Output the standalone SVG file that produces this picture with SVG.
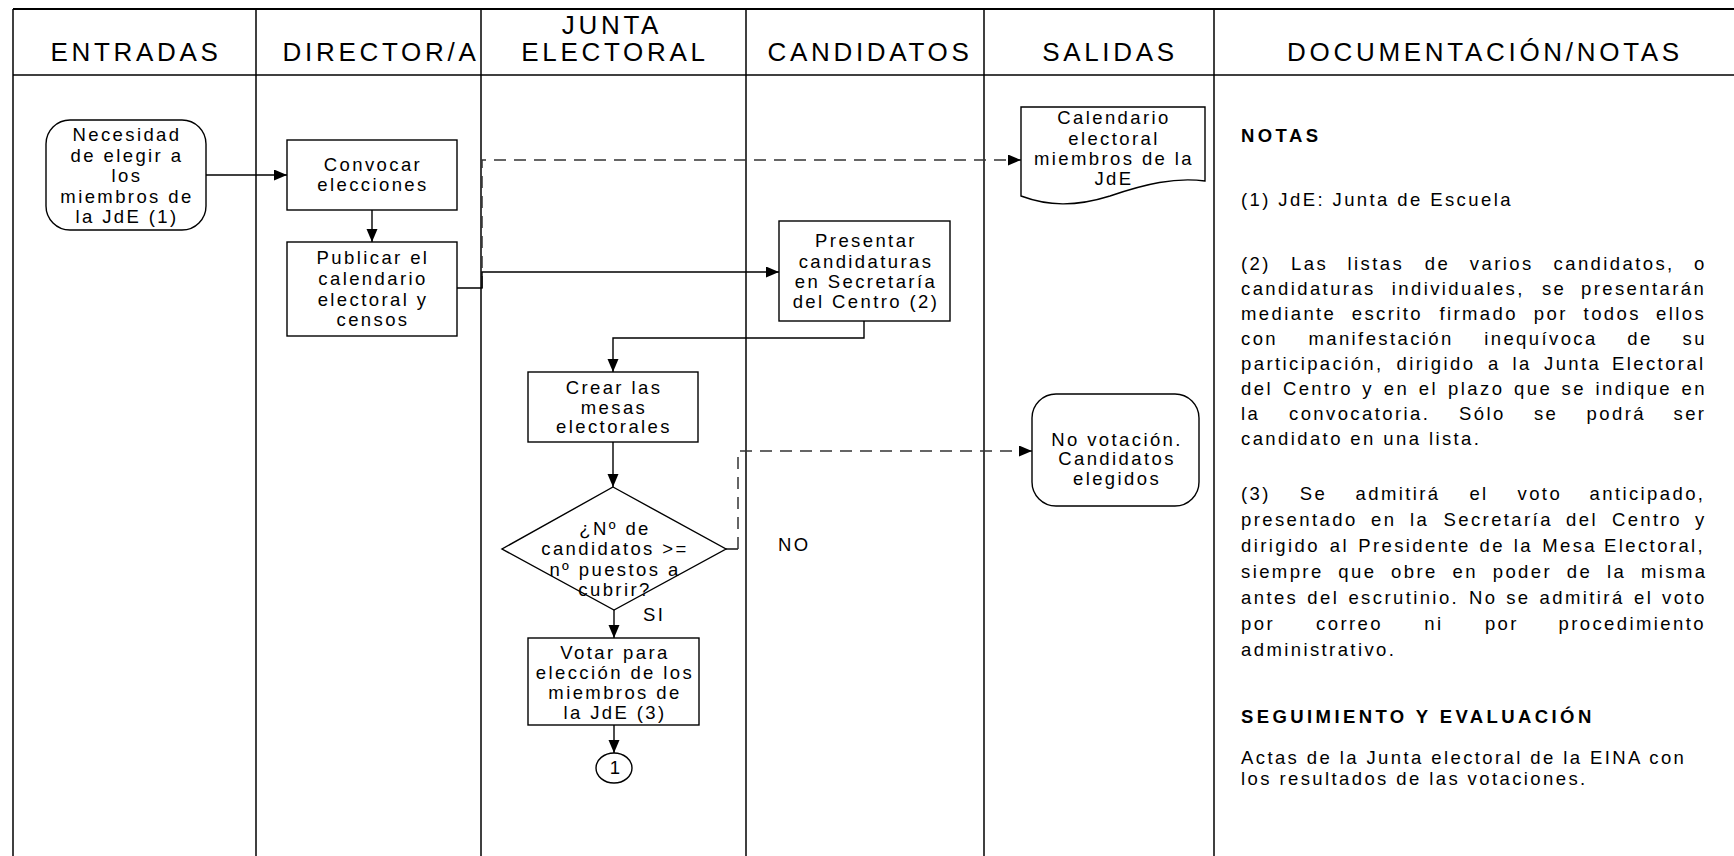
<svg xmlns="http://www.w3.org/2000/svg" width="1734" height="856" viewBox="0 0 1734 856">
<style>
.lane{stroke:#000;stroke-width:1.5;fill:none}
.hd{font-family:"Liberation Sans",Arial,sans-serif;font-size:26px;letter-spacing:3.7px;fill:#000;text-anchor:middle}
.t{font-family:"Liberation Sans",Arial,sans-serif;font-size:18.5px;letter-spacing:2.4px;fill:#000}
.c{text-anchor:middle}
.b{font-weight:bold;letter-spacing:3.4px}
.shape{fill:#fff;stroke:#000;stroke-width:1.4}
.ln{fill:none;stroke:#000;stroke-width:1.4}
.dash{fill:none;stroke:#333;stroke-width:1.5;stroke-dasharray:12 8}
</style>
<defs>
<marker id="ah" markerUnits="userSpaceOnUse" markerWidth="14" markerHeight="12" refX="13" refY="5.5" orient="auto">
<path d="M0,0 L13,5.5 L0,11 Z" fill="#000"/>
</marker>
</defs>
<rect width="1734" height="856" fill="#fff"/>
<g id="lanes">
<line class="lane" x1="13" y1="9" x2="1734" y2="9" style="stroke-width:2"/>
<line class="lane" x1="13" y1="75" x2="1734" y2="75"/>
<line class="lane" x1="13" y1="9" x2="13" y2="856"/>
<line class="lane" x1="256" y1="9" x2="256" y2="856"/>
<line class="lane" x1="481" y1="9" x2="481" y2="856"/>
<line class="lane" x1="746" y1="9" x2="746" y2="856"/>
<line class="lane" x1="984" y1="9" x2="984" y2="856"/>
<line class="lane" x1="1214" y1="9" x2="1214" y2="856"/>
<text class="hd" x="136" y="61">ENTRADAS</text>
<text class="hd" x="381" y="61">DIRECTOR/A</text>
<text class="hd" x="612" y="34">JUNTA</text>
<text class="hd" x="615" y="61">ELECTORAL</text>
<text class="hd" x="870" y="61">CANDIDATOS</text>
<text class="hd" x="1110" y="61">SALIDAS</text>
<text class="hd" x="1485" y="61">DOCUMENTACIÓN/NOTAS</text>
</g>
<g id="connectors">
<path class="ln" d="M206,175 H287" marker-end="url(#ah)"/>
<path class="ln" d="M372,210 V242" marker-end="url(#ah)"/>
<path class="dash" d="M482,288 V160 H1021" marker-end="url(#ah)"/>
<path class="ln" d="M457,288 H482 V272 H779" marker-end="url(#ah)"/>
<path class="ln" d="M864,321 V338 H613 V372" marker-end="url(#ah)"/>
<path class="ln" d="M613,442 V487" marker-end="url(#ah)"/>
<path class="ln" d="M614,610 V638" marker-end="url(#ah)"/>
<path class="ln" d="M614,725 V753" marker-end="url(#ah)"/>
<path class="ln" d="M726,549 H738"/>
<path class="dash" d="M738,549 V451 H1032" marker-end="url(#ah)"/>
<text class="t" x="643" y="621">SI</text>
<text class="t" x="778" y="551">NO</text>
</g>
<g id="necesidad">
<rect class="shape" x="46" y="120" width="160" height="110" rx="24"/>
<text class="t c" x="127" y="141">Necesidad</text>
<text class="t c" x="127" y="161.5">de elegir a</text>
<text class="t c" x="127" y="182">los</text>
<text class="t c" x="127" y="202.5">miembros de</text>
<text class="t c" x="127" y="223">la JdE (1)</text>
</g>
<g id="convocar">
<rect class="shape" x="287" y="140" width="170" height="70"/>
<text class="t c" x="373" y="171">Convocar</text>
<text class="t c" x="373" y="191">elecciones</text>
</g>
<g id="publicar">
<rect class="shape" x="287" y="242" width="170" height="94"/>
<text class="t c" x="373" y="264">Publicar el</text>
<text class="t c" x="373" y="285">calendario</text>
<text class="t c" x="373" y="306">electoral y</text>
<text class="t c" x="373" y="326">censos</text>
</g>
<g id="calendario">
<path class="shape" d="M1021,107 H1205 V181 C1175,177 1145,184 1110,196 C1075,207 1048,206 1021,196 Z"/>
<text class="t c" x="1114" y="124">Calendario</text>
<text class="t c" x="1114" y="145">electoral</text>
<text class="t c" x="1114" y="165">miembros de la</text>
<text class="t c" x="1114" y="185">JdE</text>
</g>
<g id="presentar">
<rect class="shape" x="779" y="221" width="171" height="100"/>
<text class="t c" x="866" y="247">Presentar</text>
<text class="t c" x="866" y="268">candidaturas</text>
<text class="t c" x="866" y="288">en Secretaría</text>
<text class="t c" x="866" y="308">del Centro (2)</text>
</g>
<g id="crear">
<rect class="shape" x="528" y="372" width="170" height="70"/>
<text class="t c" x="614" y="394">Crear las</text>
<text class="t c" x="614" y="414">mesas</text>
<text class="t c" x="614" y="433">electorales</text>
</g>
<g id="decision">
<path class="shape" d="M613,487 L726,549 L614,610 L502,549 Z"/>
<text class="t c" x="615" y="535">¿Nº de</text>
<text class="t c" x="615" y="555">candidatos &gt;=</text>
<text class="t c" x="615" y="576">nº puestos a</text>
<text class="t c" x="615" y="596">cubrir?</text>
</g>
<g id="novotacion">
<rect class="shape" x="1032" y="394" width="167" height="112" rx="24"/>
<text class="t c" x="1117" y="446">No votación.</text>
<text class="t c" x="1117" y="465">Candidatos</text>
<text class="t c" x="1117" y="485">elegidos</text>
</g>
<g id="votar">
<rect class="shape" x="528" y="638" width="171" height="87"/>
<text class="t c" x="615" y="659">Votar para</text>
<text class="t c" x="615" y="679">elección de los</text>
<text class="t c" x="615" y="699">miembros de</text>
<text class="t c" x="615" y="719">la JdE (3)</text>
</g>
<g id="conector1">
<ellipse class="shape" cx="614" cy="768" rx="18" ry="15"/>
<text class="t c" x="616" y="774">1</text>
</g>
<g id="notas">
<text class="t b" x="1241" y="142">NOTAS</text>
<text class="t" x="1241" y="206">(1) JdE: Junta de Escuela</text>
<text class="t" y="270"><tspan x="1241">(2)</tspan><tspan x="1291">Las</tspan><tspan x="1347.6">listas</tspan><tspan x="1424.8">de</tspan><tspan x="1469.8">varios</tspan><tspan x="1553.6">candidatos,</tspan><tspan x="1694">o</tspan></text>
<text class="t" y="295"><tspan x="1241">candidaturas</tspan><tspan x="1391.8">individuales,</tspan><tspan x="1541.9">se</tspan><tspan x="1581">presentarán</tspan></text>
<text class="t" y="320"><tspan x="1241">mediante</tspan><tspan x="1351.7">escrito</tspan><tspan x="1439.4">firmado</tspan><tspan x="1533.8">por</tspan><tspan x="1583.6">todos</tspan><tspan x="1656">ellos</tspan></text>
<text class="t" y="345"><tspan x="1241">con</tspan><tspan x="1308.4">manifestación</tspan><tspan x="1484.2">inequívoca</tspan><tspan x="1627.2">de</tspan><tspan x="1682.5">su</tspan></text>
<text class="t" y="370"><tspan x="1241">participación,</tspan><tspan x="1396.5">dirigido</tspan><tspan x="1488.1">a</tspan><tspan x="1512.6">la</tspan><tspan x="1544">Junta</tspan><tspan x="1612">Electoral</tspan></text>
<text class="t" y="395"><tspan x="1241">del</tspan><tspan x="1282.9">Centro</tspan><tspan x="1362.3">y</tspan><tspan x="1383.8">en</tspan><tspan x="1418.8">el</tspan><tspan x="1448.1">plazo</tspan><tspan x="1514.1">que</tspan><tspan x="1561.6">se</tspan><tspan x="1595.6">indique</tspan><tspan x="1681.5">en</tspan></text>
<text class="t" y="420"><tspan x="1241">la</tspan><tspan x="1289">convocatoria.</tspan><tspan x="1459">Sólo</tspan><tspan x="1533.9">se</tspan><tspan x="1586.6">podrá</tspan><tspan x="1673.5">ser</tspan></text>
<text class="t" x="1241" y="445">candidato en una lista.</text>
<text class="t" y="500"><tspan x="1241">(3)</tspan><tspan x="1299.8">Se</tspan><tspan x="1355.5">admitirá</tspan><tspan x="1469.4">el</tspan><tspan x="1517.5">voto</tspan><tspan x="1589.5">anticipado,</tspan></text>
<text class="t" y="526"><tspan x="1241">presentado</tspan><tspan x="1371">en</tspan><tspan x="1410.1">la</tspan><tspan x="1443.5">Secretaría</tspan><tspan x="1566">del</tspan><tspan x="1611.9">Centro</tspan><tspan x="1695">y</tspan></text>
<text class="t" y="552"><tspan x="1241">dirigido</tspan><tspan x="1329.7">al</tspan><tspan x="1358.2">Presidente</tspan><tspan x="1479.5">de</tspan><tspan x="1513.7">la</tspan><tspan x="1542.2">Mesa</tspan><tspan x="1604">Electoral,</tspan></text>
<text class="t" y="578"><tspan x="1241">siempre</tspan><tspan x="1338.3">que</tspan><tspan x="1391">obre</tspan><tspan x="1452.5">en</tspan><tspan x="1492.7">poder</tspan><tspan x="1566.8">de</tspan><tspan x="1607">la</tspan><tspan x="1641">misma</tspan></text>
<text class="t" y="604"><tspan x="1241">antes</tspan><tspan x="1307.3">del</tspan><tspan x="1348.4">escrutinio.</tspan><tspan x="1469.1">No</tspan><tspan x="1506.2">se</tspan><tspan x="1539.6">admitirá</tspan><tspan x="1634">el</tspan><tspan x="1662">voto</tspan></text>
<text class="t" y="630"><tspan x="1241">por</tspan><tspan x="1316.1">correo</tspan><tspan x="1424.2">ni</tspan><tspan x="1484.9">por</tspan><tspan x="1558.5">procedimiento</tspan></text>
<text class="t" x="1241" y="656">administrativo.</text>
<text class="t b" x="1241" y="723">SEGUIMIENTO Y EVALUACIÓN</text>
<text class="t" x="1241" y="764">Actas de la Junta electoral de la EINA con</text>
<text class="t" x="1241" y="785">los resultados de las votaciones.</text>
</g>
</svg>
